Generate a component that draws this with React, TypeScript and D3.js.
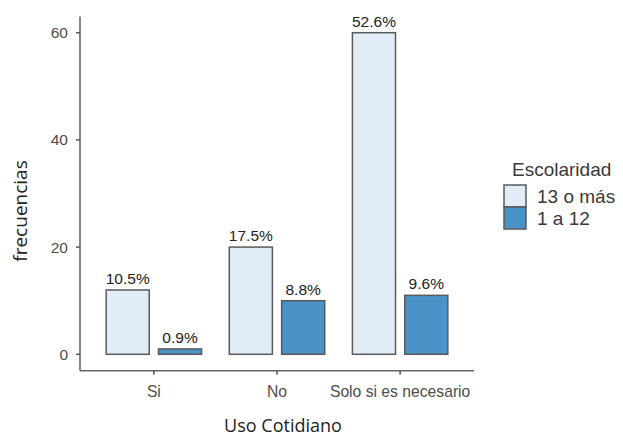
import React from "react";
import * as d3 from "d3";

const categories = ["Si", "No", "Solo si es necesario"];
const groups = ["13 o más", "1 a 12"];
const valuesHigh = [12, 20, 60];
const valuesLow = [1, 10, 11];
const labelsHigh = ["10.5%", "17.5%", "52.6%"];
const labelsLow = ["0.9%", "8.8%", "9.6%"];
const yTicks = [0, 20, 40, 60];
const colors = ["#e1ecf7", "#4a93c8"];

const W = 623;
const H = 438;
const axisX = 80;
const axisRight = 474;
const axisY = 370.7;

export default function App() {
  const x = d3.scalePoint<string>().domain(categories).range([axisX, axisRight]).padding(0.6);
  const step = x.step();
  const y = d3.scaleLinear().domain([0, 60]).range([354.3, 32.7]);
  const yTop = y(63);
  const barW = 0.35 * step;
  const off = 0.2125 * step;
  const series = [valuesHigh, valuesLow];
  const labels = [labelsHigh, labelsLow];
  const sans = "'Liberation Sans', Arial, Helvetica, sans-serif";
  const titleFont = "'Open Sans', sans-serif";

  return (
    <svg width={W} height={H} style={{ position: "absolute", left: 0, top: 0, background: "#fff" }}>
      <rect width={W} height={H} fill="#fff" />
      {/* bars */}
      {series.map((vals, si) =>
        vals.map((v, ci) => {
          const cx = (x(categories[ci]) as number) + (si === 0 ? -off : off);
          return (
            <g key={`${si}-${ci}`}>
              <rect
                x={cx - barW / 2}
                y={y(v)}
                width={barW}
                height={y(0) - y(v)}
                fill={colors[si]}
                stroke="#5a5a5a"
                strokeWidth={1.5}
              />
              <text
                x={cx}
                y={y(v) - 6}
                textAnchor="middle"
                fontFamily={sans}
                fontSize={15.5}
                fill="#222"
              >
                {labels[si][ci]}
              </text>
            </g>
          );
        })
      )}
      {/* axes */}
      <line x1={axisX} x2={axisX} y1={yTop} y2={axisY} stroke="#666" strokeWidth={1.6} />
      <line x1={axisX} x2={axisRight} y1={axisY} y2={axisY} stroke="#666" strokeWidth={1.6} />
      {yTicks.map((t) => (
        <g key={t}>
          <line x1={axisX - 4} x2={axisX} y1={y(t)} y2={y(t)} stroke="#555" strokeWidth={1.5} />
          <text
            x={axisX - 12}
            y={y(t) + 5.5}
            textAnchor="end"
            fontFamily={sans}
            fontSize={15.5}
            fill="#4d4d4d"
          >
            {t}
          </text>
        </g>
      ))}
      {categories.map((c) => (
        <g key={c}>
          <line x1={x(c)} x2={x(c)} y1={axisY} y2={axisY + 4} stroke="#555" strokeWidth={1.5} />
          <text
            x={x(c)}
            y={397}
            textAnchor="middle"
            fontFamily={sans}
            fontSize={15.7}
            fill="#4d4d4d"
          >
            {c}
          </text>
        </g>
      ))}
      {/* axis titles */}
      <text
        x={(axisX + axisRight) / 2 + 6}
        y={432}
        textAnchor="middle"
        fontFamily={titleFont}
        fontSize={18}
        fill="#222"
      >
        Uso Cotidiano
      </text>
      <text
        transform={`translate(${27},${211}) rotate(-90)`}
        textAnchor="middle"
        fontFamily={titleFont}
        fontSize={19}
        fill="#222"
      >
        frecuencias
      </text>
      {/* legend */}
      <text x={512} y={176} fontFamily={sans} fontSize={19} fill="#3a3a3a">
        Escolaridad
      </text>
      {groups.map((g, i) => (
        <g key={g}>
          <rect
            x={504}
            y={185 + i * 22}
            width={22}
            height={22}
            fill={colors[i]}
            stroke="#5a5a5a"
            strokeWidth={1.5}
          />
          <text x={537} y={203 + i * 22} fontFamily={sans} fontSize={19} fill="#3a3a3a">
            {g}
          </text>
        </g>
      ))}
    </svg>
  );
}
